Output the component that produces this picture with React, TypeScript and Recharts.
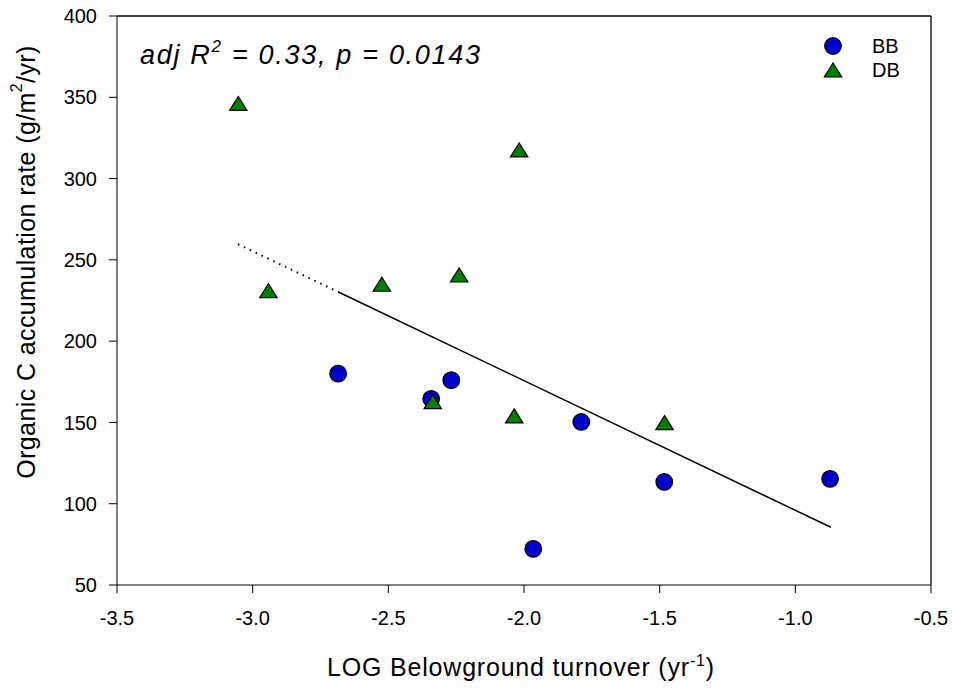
import React from "react";
import {
  ScatterChart,
  Scatter,
  XAxis,
  YAxis,
  ReferenceLine,
  Legend,
  Label,
} from "recharts";

const bbX = [-2.685, -2.342, -2.268, -1.789, -1.483, -1.966, -0.872];
const bbY = [180, 164.5, 176, 150.3, 113.4, 72.2, 115.3];
const dbX = [-3.053, -2.942, -2.524, -2.239, -2.018, -2.336, -2.036, -1.482];
const dbY = [346.2, 231, 235, 240.7, 317.6, 162.8, 154, 149.9];

// regression fit: solid over the data range, dotted extrapolation to the left
const fitX = [-2.686, -0.869];
const fitY = [230.4, 85.5];
const extX = [-3.054, -2.686];
const extY = [259.6, 230.4];

const xTicks = [-3.5, -3.0, -2.5, -2.0, -1.5, -1.0, -0.5];
const yTicks = [50, 100, 150, 200, 250, 300, 350, 400];

const zip = (xs: number[], ys: number[]) => xs.map((x, i) => ({ x, y: ys[i] }));

const bbData = zip(bbX, bbY);
const dbData = zip(dbX, dbY);
const fitData = zip(fitX, fitY);
const extData = zip(extX, extY);

const FONT = "'Liberation Sans', Arial, sans-serif";
const BLUE = "#0000CC";
const GREEN = "#008000";

const CircleShape = (props: any) => (
  <circle cx={props.cx} cy={props.cy} r={8.3} fill={BLUE} stroke="#000" strokeWidth={1.2} />
);

const TriangleShape = (props: any) => {
  const { cx, cy } = props;
  const w = 8.7;
  const h = 7;
  return (
    <polygon
      points={`${cx},${cy - h} ${cx - w},${cy + h} ${cx + w},${cy + h}`}
      fill={GREEN}
      stroke="#000"
      strokeWidth={1.2}
    />
  );
};

const NoShape = () => <g />;

const LegendBox = () => (
  <svg width={110} height={50}>
    <circle cx={13} cy={12} r={8.3} fill={BLUE} stroke="#000" strokeWidth={1.2} />
    <text x={52} y={19} fontSize={20} fontFamily={FONT} fill="#000">BB</text>
    <polygon points="13,29 4.3,43 21.7,43" fill={GREEN} stroke="#000" strokeWidth={1.2} />
    <text x={52} y={43} fontSize={20} fontFamily={FONT} fill="#000">DB</text>
  </svg>
);

const YTitle = () => {
  const cx = 26;
  const cy = 262;
  return (
    <text
      x={cx}
      y={cy}
      transform={`rotate(-90 ${cx} ${cy})`}
      textAnchor="middle"
      dominantBaseline="central"
      fontSize={25}
      letterSpacing={0.4}
      fontFamily={FONT}
      fill="#000"
    >
      Organic C accumulation rate (g/m
      <tspan dy={-10} fontSize={16}>2</tspan>
      <tspan dy={10}>/yr)</tspan>
    </text>
  );
};

const XTitle = (props: any) => {
  const vb = props.viewBox || {};
  const cx = vb.x + vb.width / 2;
  return (
    <text
      x={cx - 3}
      y={676}
      textAnchor="middle"
      fontSize={25}
      letterSpacing={0.8}
      fontFamily={FONT}
      fill="#000"
    >
      LOG Belowground turnover (yr
      <tspan dy={-10} fontSize={16}>-1</tspan>
      <tspan dy={10}>)</tspan>
    </text>
  );
};

export default function App() {
  const tick = { fill: "#000", fontSize: 20, fontFamily: FONT };
  return (
    <div style={{ position: "absolute", left: 0, top: 0, width: 956, height: 689, background: "#fff" }}>
      <ScatterChart width={956} height={689} margin={{ top: 16, right: 25, bottom: 0, left: 0 }}>
        <XAxis
          type="number"
          dataKey="x"
          domain={[-3.5, -0.5]}
          ticks={xTicks}
          tickFormatter={(v: number) => v.toFixed(1)}
          height={104}
          stroke="#000"
          tickSize={8}
          tickMargin={18}
          tick={tick}
        >
          <Label content={<XTitle />} />
        </XAxis>
        <YAxis
          type="number"
          dataKey="y"
          domain={[50, 400]}
          ticks={yTicks}
          width={117}
          stroke="#000"
          tickSize={8}
          tickMargin={12}
          tick={tick}
        >
          <Label content={<YTitle />} />
        </YAxis>
        <ReferenceLine y={400} stroke="#000" strokeWidth={1.3} />
        <ReferenceLine x={-0.5} stroke="#000" strokeWidth={1.3} />
        <Legend
          layout="vertical"
          align="center"
          verticalAlign="middle"
          content={<LegendBox />}
          wrapperStyle={{ left: 820, top: 34, width: 110, height: 50 }}
        />
        <Scatter
          name="fit-ext"
          data={extData}
          line={{ stroke: "#000", strokeWidth: 2, strokeDasharray: "1.5 5" }}
          shape={NoShape}
          legendType="none"
          isAnimationActive={false}
        />
        <Scatter
          name="fit"
          data={fitData}
          line={{ stroke: "#000", strokeWidth: 1.5 }}
          shape={NoShape}
          legendType="none"
          isAnimationActive={false}
        />
        <Scatter name="BB" data={bbData} shape={CircleShape} isAnimationActive={false} />
        <Scatter name="DB" data={dbData} shape={TriangleShape} isAnimationActive={false} />
      </ScatterChart>
      <div
        style={{
          position: "absolute",
          left: 140,
          top: 38,
          fontFamily: FONT,
          fontStyle: "italic",
          fontSize: 27,
          letterSpacing: 1.7,
          lineHeight: "34px",
          color: "#000",
          whiteSpace: "nowrap",
        }}
      >
        adj R<sup style={{ fontSize: 17, verticalAlign: "top", lineHeight: "18px" }}>2</sup> = 0.33, p = 0.0143
      </div>
    </div>
  );
}
